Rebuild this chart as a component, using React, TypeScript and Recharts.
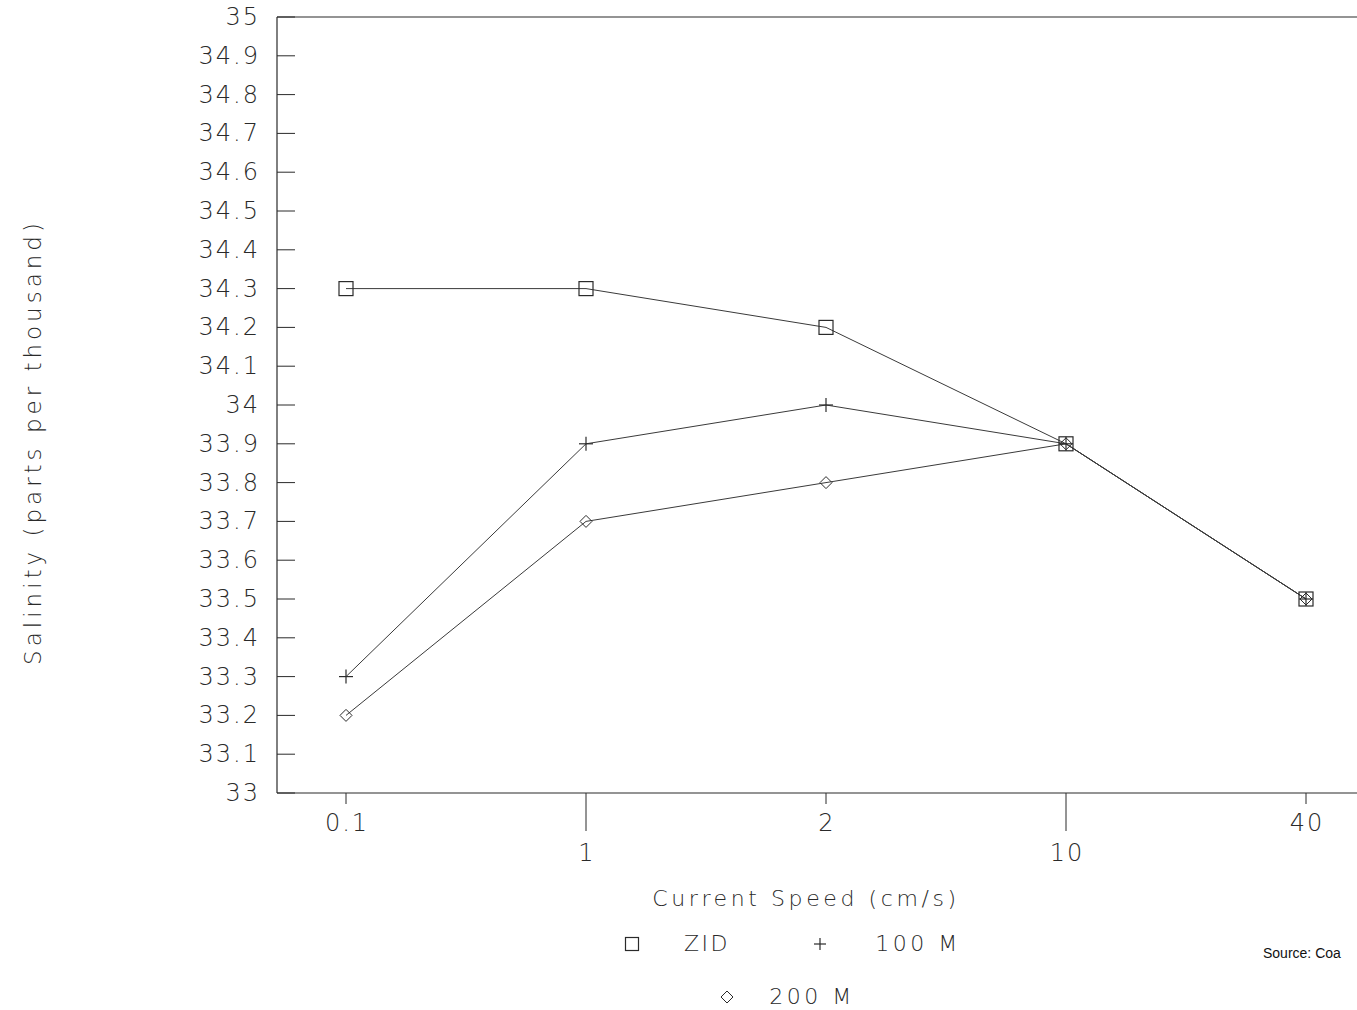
import React from 'react';
import { LineChart, Line, XAxis, YAxis, ReferenceLine } from 'recharts';

const speeds = ['0.1', '1', '2', '10', '40'];
const zidValues = [34.3, 34.3, 34.2, 33.9, 33.5];
const m100Values = [33.3, 33.9, 34.0, 33.9, 33.5];
const m200Values = [33.2, 33.7, 33.8, 33.9, 33.5];
const yTicks = [33, 33.1, 33.2, 33.3, 33.4, 33.5, 33.6, 33.7, 33.8, 33.9, 34, 34.1, 34.2, 34.3, 34.4, 34.5, 34.6, 34.7, 34.8, 34.9, 35];
// labels that sit on the lower row, with the long tick marks
const lowRow = ['1', '10'];

const data = speeds.map((s, i) => ({
  speed: s,
  zid: zidValues[i],
  m100: m100Values[i],
  m200: m200Values[i],
}));

const FONT = '"DejaVu Sans", sans-serif';
const INK = '#2a2a2a';

const YTick = (props: any) => {
  const { x, y, payload } = props;
  return (
    <g>
      <line x1={x} x2={x + 18} y1={y} y2={y} stroke={INK} strokeWidth={1} />
      <text x={x - 17} y={y} textAnchor="end" dominantBaseline="central" letterSpacing={2}
        fontFamily={FONT} fontWeight={200} fontSize={24} fill={INK}>
        {payload.value}
      </text>
    </g>
  );
};

const XTick = (props: any) => {
  const { x, y, payload } = props;
  const low = lowRow.includes(payload.value);
  return (
    <g>
      <line x1={x} x2={x} y1={y} y2={y + (low ? 38 : 11)} stroke={INK} strokeWidth={1} />
      <text x={x + 1} y={y + (low ? 60 : 30)} textAnchor="middle" dominantBaseline="central" letterSpacing={2}
        fontFamily={FONT} fontWeight={200} fontSize={24} fill={INK}>
        {payload.value}
      </text>
    </g>
  );
};

const SquareDot = (props: any) => {
  const { cx, cy, index } = props;
  return <rect key={`sq-${index}`} x={cx - 7} y={cy - 7} width={14} height={14} fill="none" stroke={INK} strokeWidth={1.2} />;
};

const PlusDot = (props: any) => {
  const { cx, cy, index } = props;
  return (
    <g key={`pl-${index}`}>
      <line x1={cx - 7} x2={cx + 7} y1={cy} y2={cy} stroke={INK} strokeWidth={1.2} />
      <line x1={cx} x2={cx} y1={cy - 7} y2={cy + 7} stroke={INK} strokeWidth={1.2} />
    </g>
  );
};

const DiamondDot = (props: any) => {
  const { cx, cy, index } = props;
  return (
    <path key={`di-${index}`} d={`M${cx},${cy - 6}L${cx + 6},${cy}L${cx},${cy + 6}L${cx - 6},${cy}Z`}
      fill="none" stroke={INK} strokeWidth={1} />
  );
};

const centered = (x: number, y: number, extra: React.CSSProperties = {}): React.CSSProperties => ({
  position: 'absolute',
  left: x,
  top: y,
  transform: 'translate(-50%, -50%)',
  whiteSpace: 'nowrap',
  lineHeight: 1,
  fontFamily: FONT,
  fontWeight: 200,
  color: INK,
  ...extra,
});

export default function App() {
  return (
    <div style={{ position: 'absolute', left: 0, top: 0, width: 1357, height: 1010, overflow: 'hidden', background: '#fff' }}>
      <div style={{ position: 'absolute', left: 0, top: 0 }}>
        <LineChart width={1400} height={1010} data={data}
          margin={{ top: 17, right: 24, left: 0, bottom: 0 }}>
          <XAxis dataKey="speed" height={217} padding={{ left: 69, right: 70 }}
            axisLine={{ stroke: INK, strokeWidth: 1.2 }} tickLine={false}
            tickSize={0} tickMargin={0} tick={<XTick />} interval={0} />
          <YAxis width={277} domain={[33, 35]} ticks={yTicks} type="number"
            axisLine={{ stroke: INK, strokeWidth: 1.2 }} tickLine={false}
            tickSize={0} tickMargin={0} tick={<YTick />} interval={0} />
          <ReferenceLine y={35} stroke={INK} strokeWidth={1.2} />
          <Line dataKey="zid" stroke="#3a3a3a" strokeWidth={1} dot={SquareDot} isAnimationActive={false} />
          <Line dataKey="m100" stroke="#3a3a3a" strokeWidth={1} dot={PlusDot} isAnimationActive={false} />
          <Line dataKey="m200" stroke="#3a3a3a" strokeWidth={1} dot={DiamondDot} isAnimationActive={false} />
        </LineChart>
      </div>

      <div style={centered(33, 442, { fontSize: 23, letterSpacing: 4, transform: 'translate(-50%, -50%) rotate(-90deg)' })}>
        Salinity (parts per thousand)
      </div>
      <div style={centered(806, 899, { fontSize: 22, letterSpacing: 3.6 })}>Current Speed (cm/s)</div>

      <svg style={{ position: 'absolute', left: 624, top: 936 }} width={16} height={16}>
        <rect x={1.5} y={1.5} width={13} height={13} fill="none" stroke={INK} strokeWidth={1.2} />
      </svg>
      <div style={centered(707, 944, { fontSize: 22, letterSpacing: 2.5 })}>ZID</div>
      <svg style={{ position: 'absolute', left: 813, top: 937 }} width={14} height={14}>
        <line x1={1} x2={13} y1={7} y2={7} stroke={INK} strokeWidth={1.2} />
        <line x1={7} x2={7} y1={1} y2={13} stroke={INK} strokeWidth={1.2} />
      </svg>
      <div style={centered(918, 944, { fontSize: 22, letterSpacing: 3.5 })}>100 M</div>

      <svg style={{ position: 'absolute', left: 720, top: 990 }} width={14} height={14}>
        <path d="M7,1L13,7L7,13L1,7Z" fill="none" stroke={INK} strokeWidth={1} />
      </svg>
      <div style={centered(812, 997, { fontSize: 22, letterSpacing: 3.5 })}>200 M</div>

      <div style={{ position: 'absolute', left: 1263, top: 946, fontFamily: '"Liberation Sans", Arial, sans-serif', fontSize: 14, lineHeight: 1, color: '#111', whiteSpace: 'nowrap' }}>
        Source: Coa
      </div>
    </div>
  );
}
